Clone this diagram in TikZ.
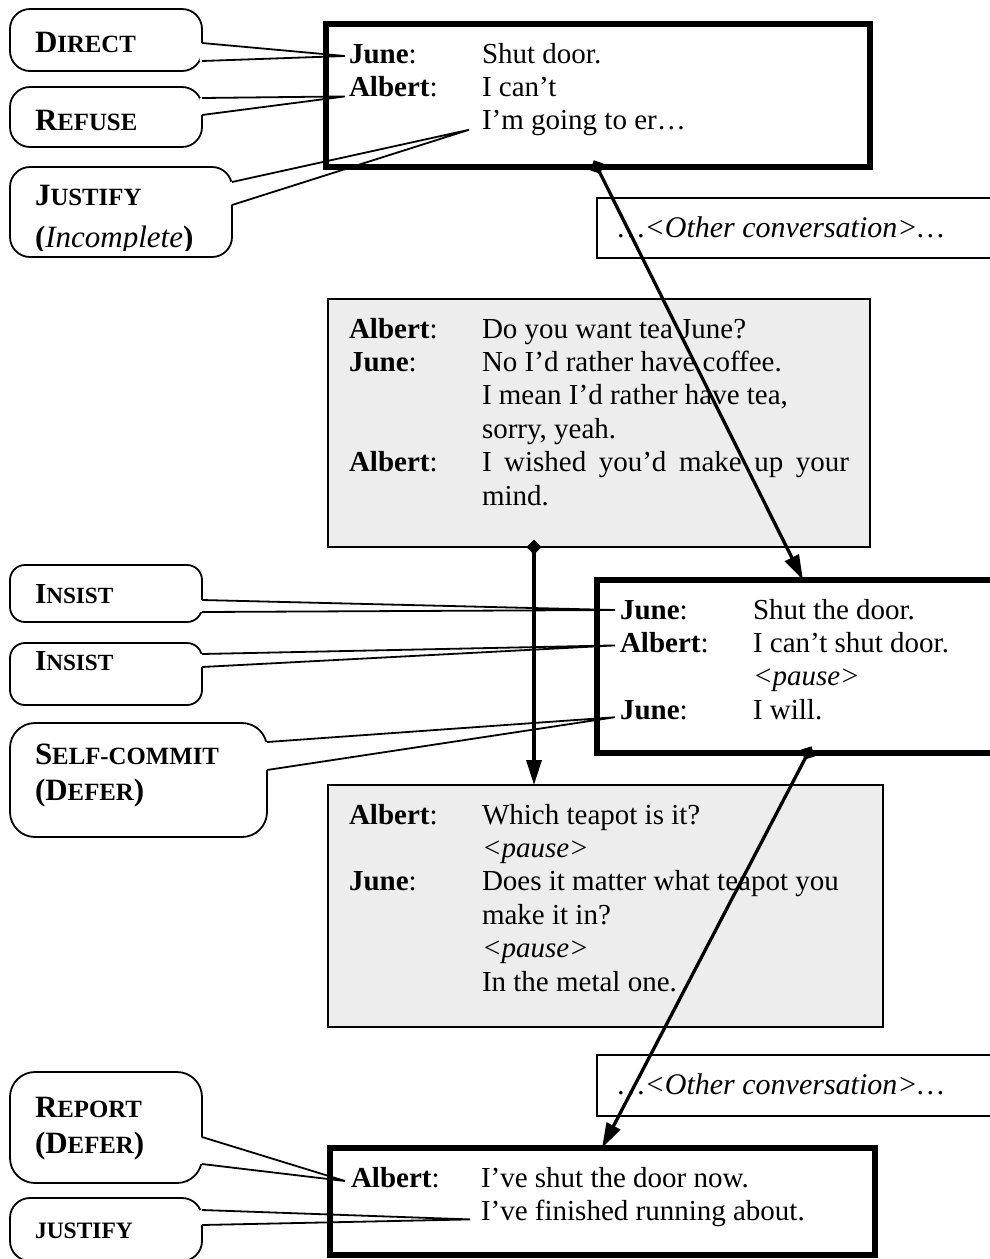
\documentclass[tikz,border=0pt]{standalone}
\usepackage{fontspec}
\setmainfont{Liberation Serif}
\usetikzlibrary{arrows.meta,calc}
\definecolor{shade}{RGB}{237,237,237}
% small capitals made from reduced upper-case letters
\newcommand\capsm[2][24.8pt]{{\fontsize{#1}{#1}\selectfont #2}}
% pointer of a callout: base points #1, #2 on the callout edge, tip #3
\newcommand\callwedge[3]{%
  \fill[white] ($(#1)+(-2.5,0)$) -- ($(#1)!6pt!(#3)$) -- ($(#2)!6pt!(#3)$) -- ($(#2)+(-2.5,0)$) -- cycle;
  \draw[wedgeline] (#1) -- (#3) -- (#2);}
\begin{document}
\begin{tikzpicture}[x=1pt,y=-1pt,
  every node/.style={inner sep=0pt, outer sep=0pt},
  txt/.style={anchor=base west, font=\fontsize{29pt}{33.4pt}\selectfont},
  ctxt/.style={anchor=base west, font=\fontsize{31pt}{35pt}\selectfont},
  otxt/.style={anchor=base west, font=\fontsize{30pt}{34pt}\selectfont\itshape},
  thickbox/.style={draw, line width=5.5pt, rectangle, anchor=north west},
  thinbox/.style={draw, line width=2pt, rectangle, anchor=north west},
  shadebox/.style={thinbox, fill=shade},
  callout/.style={draw, line width=1.8pt, fill=white, rectangle, rounded corners=#1, anchor=north west},
  callout/.default=20pt,
  wedgeline/.style={line width=1.8pt, line join=miter},
  dconn/.style={line width=3.3pt, {Diamond[length=15pt,width=15pt]}-{Triangle[length=25pt,width=15pt]}, shorten <=-7.5pt},
]
\useasboundingbox (0,0) rectangle (990,1259);
\clip (0,0) rectangle (990,1259);

% dialogue boxes
\node[thickbox, minimum width=544pt, minimum height=143pt] (b1) at (326,24) {};
\node[thinbox, minimum width=500pt, minimum height=60pt] (o1) at (597,198) {};
\node[shadebox, minimum width=542pt, minimum height=248pt] (s1) at (328,299) {};
\node[thickbox, minimum width=500pt, minimum height=173pt] (b2) at (597,580) {};
\node[shadebox, minimum width=555pt, minimum height=242pt] (s2) at (328,785) {};
\node[thinbox, minimum width=500pt, minimum height=61pt] (o2) at (597,1055) {};
\node[thickbox, minimum width=545pt, minimum height=107pt] (b3) at (330,1148) {};

% first exchange
\node[txt] (b1l1) at (349,63) {\textbf{June}:};
\node[txt] (b1c1) at (482,63) {Shut door.};
\node[txt] (b1l2) at (349,96.4) {\textbf{Albert}:};
\node[txt] (b1c2) at (482,96.4) {I can’t};
\node[txt] (b1c3) at (482,129.8) {I’m going to er…};

\node[otxt] (o1t) at (618,237) {…<Other conversation>…};

% tea
\node[txt] (s1l1) at (349,338) {\textbf{Albert}:};
\node[txt] (s1c1) at (482,338) {Do you want tea June?};
\node[txt] (s1l2) at (349,371.4) {\textbf{June}:};
\node[txt] (s1c2) at (482,371.4) {No I’d rather have coffee.};
\node[txt] (s1c3) at (482,404.8) {I mean I’d rather have tea,};
\node[txt] (s1c4) at (482,438.2) {sorry, yeah.};
\node[txt] (s1l5) at (349,471.6) {\textbf{Albert}:};
\node[txt] (s1c5) at (482,471.6) {\makebox[367pt][s]{I wished you’d make up your}};
\node[txt] (s1c6) at (482,505) {mind.};

% second exchange
\node[txt] (b2l1) at (620,619) {\textbf{June}:};
\node[txt] (b2c1) at (753,619) {Shut the door.};
\node[txt] (b2l2) at (620,652.4) {\textbf{Albert}:};
\node[txt] (b2c2) at (753,652.4) {I can’t shut door.};
\node[txt] (b2c3) at (753,685.8) {\textit{<pause>}};
\node[txt] (b2l4) at (620,719.2) {\textbf{June}:};
\node[txt] (b2c4) at (753,719.2) {I will.};

% teapot
\node[txt] (s2l1) at (349,824) {\textbf{Albert}:};
\node[txt] (s2c1) at (482,824) {Which teapot is it?};
\node[txt] (s2c2) at (482,857.4) {\textit{<pause>}};
\node[txt] (s2l3) at (349,890.8) {\textbf{June}:};
\node[txt] (s2c3) at (482,890.8) {Does it matter what teapot you};
\node[txt] (s2c4) at (482,924.2) {make it in?};
\node[txt] (s2c5) at (482,957.6) {\textit{<pause>}};
\node[txt] (s2c6) at (482,991) {In the metal one.};

\node[otxt] (o2t) at (618,1094) {…<Other conversation>…};

% last exchange
\node[txt] (b3l1) at (351,1187) {\textbf{Albert}:};
\node[txt] (b3c1) at (481,1187) {I’ve shut the door now.};
\node[txt] (b3c2) at (481,1220.4) {I’ve finished running about.};

% sequence arrows
\draw[dconn] ([xshift=271pt]b1.south west) -- ([xshift=206pt]b2.north west);
\draw[dconn] ([xshift=206pt]s1.south west) -- ([xshift=206pt]s2.north west);
\draw[dconn] ([xshift=211pt]b2.south west) -- ([xshift=272pt]b3.north west);

% callouts
\node[callout, minimum width=192pt, minimum height=62pt] (c1) at (10,9) {};
\node[ctxt] (c1t) at (35,52) {\textbf{D\capsm{IRECT}}};
\coordinate (c1a) at ([yshift=-34pt]c1.north east);
\coordinate (c1b) at ([yshift=-52pt]c1.north east);
\coordinate (c1p) at ([shift={(-4pt,7pt)}]b1l1.base west);
\callwedge{c1a}{c1b}{c1p}

\node[callout, minimum width=192pt, minimum height=60pt] (c2) at (10,87) {};
\node[ctxt] (c2t) at (35,130) {\textbf{R\capsm{EFUSE}}};
\coordinate (c2a) at ([yshift=-11pt]c2.north east);
\coordinate (c2b) at ([yshift=-28pt]c2.north east);
\coordinate (c2p) at ([shift={(-4pt,0pt)}]b1l2.base west);
\callwedge{c2a}{c2b}{c2p}

\node[callout, minimum width=222pt, minimum height=90pt] (c3) at (10,167) {};
\node[ctxt] (c3t) at (35,205) {\textbf{J\capsm{USTIFY}}};
\begin{scope}
  \clip (10,167) rectangle (232,250);
  \node[ctxt] (c3u) at (35,247) {\textbf{(}\textit{Incomplete}\textbf{)}};
\end{scope}
\coordinate (c3a) at ([yshift=-15pt]c3.north east);
\coordinate (c3b) at ([yshift=-38pt]c3.north east);
\coordinate (c3p) at ([shift={(-13pt,0pt)}]b1c3.base west);
\callwedge{c3a}{c3b}{c3p}

\node[callout=15pt, minimum width=192pt, minimum height=57pt] (c4) at (10,565) {};
\node[txt] (c4t) at (35,603) {\textbf{I\capsm[23.2pt]{NSIST}}};
\coordinate (c4a) at ([yshift=-35pt]c4.north east);
\coordinate (c4b) at ([yshift=-47pt]c4.north east);
\coordinate (c4p) at ([shift={(-5pt,9pt)}]b2l1.base west);
\callwedge{c4a}{c4b}{c4p}

\node[callout=15pt, minimum width=192pt, minimum height=62pt] (c5) at (10,643) {};
\node[txt] (c5t) at (35,670) {\textbf{I\capsm[23.2pt]{NSIST}}};
\coordinate (c5a) at ([yshift=-11pt]c5.north east);
\coordinate (c5b) at ([yshift=-24pt]c5.north east);
\coordinate (c5p) at ([shift={(-5pt,7pt)}]b2l2.base west);
\callwedge{c5a}{c5b}{c5p}

\node[callout=25pt, minimum width=257pt, minimum height=114pt] (c6) at (10,723) {};
\node[ctxt] (c6t) at (35,764) {\textbf{S\capsm{ELF-COMMIT}}};
\node[ctxt] (c6u) at (35,800) {\textbf{(D\capsm{EFER})}};
\coordinate (c6a) at ([yshift=-19pt]c6.north east);
\coordinate (c6b) at ([yshift=-47pt]c6.north east);
\coordinate (c6p) at ([shift={(-5pt,2pt)}]b2l4.base west);
\callwedge{c6a}{c6b}{c6p}

\node[callout=25pt, minimum width=192pt, minimum height=111pt] (c7) at (10,1072) {};
\node[ctxt] (c7t) at (35,1117) {\textbf{R\capsm{EPORT}}};
\node[ctxt] (c7u) at (35,1153) {\textbf{(D\capsm{EFER})}};
\coordinate (c7a) at ([yshift=-65pt]c7.north east);
\coordinate (c7b) at ([yshift=-92pt]c7.north east);
\coordinate (c7p) at ([shift={(-6pt,6pt)}]b3l1.base west);
\callwedge{c7a}{c7b}{c7p}

\node[callout, minimum width=192pt, minimum height=63pt] (c8) at (10,1198) {};
\node[ctxt] (c8t) at (35,1238) {\textbf{\capsm[23.5pt]{JUSTIFY}}};
\coordinate (c8a) at ([yshift=-12pt]c8.north east);
\coordinate (c8b) at ([yshift=-27pt]c8.north east);
\coordinate (c8p) at ([shift={(-11pt,1pt)}]b3c2.base west);
\callwedge{c8a}{c8b}{c8p}
\end{tikzpicture}
\end{document}
